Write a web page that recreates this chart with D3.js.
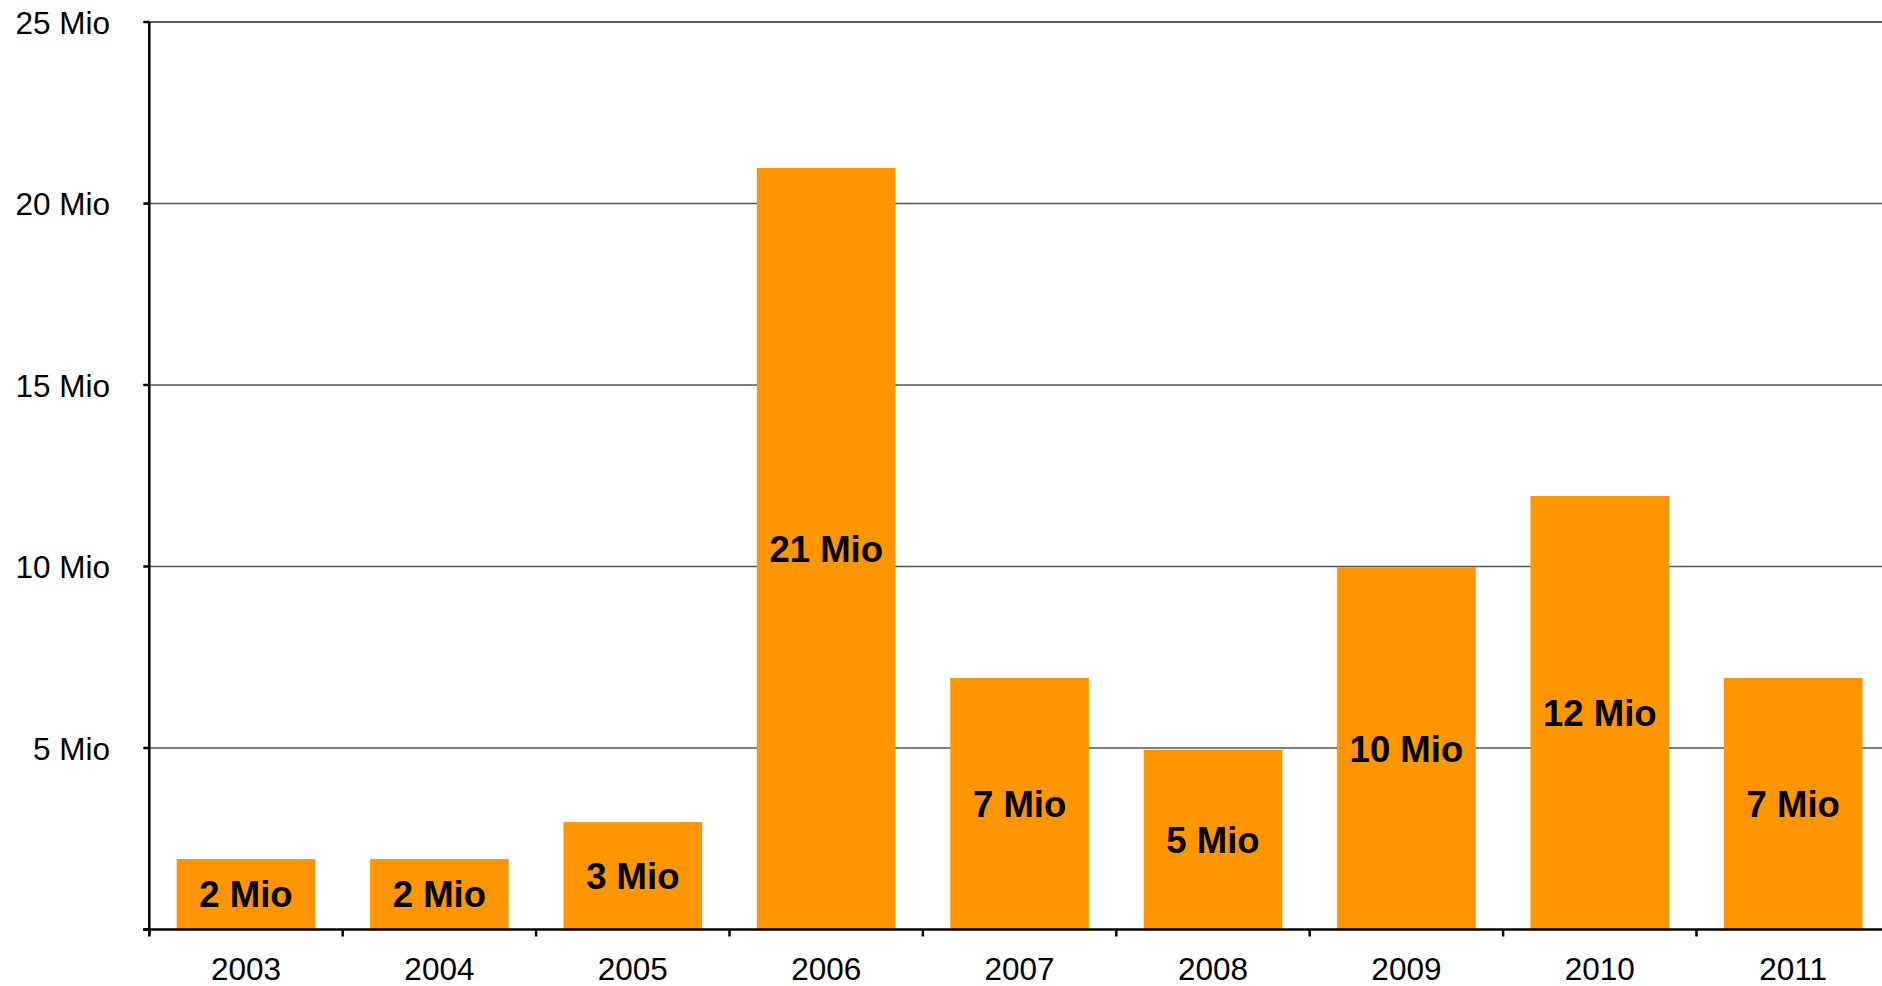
<!DOCTYPE html>
<html>
<head>
<meta charset="utf-8">
<script src="https://cdn.jsdelivr.net/npm/d3@7/dist/d3.min.js"></script>
<style>
  html, body { margin: 0; padding: 0; background: #fff; }
  svg { display: block; font-family: "Liberation Sans", Arial, sans-serif; }
</style>
</head>
<body>
<svg id="chart" width="1882" height="986"></svg>
<script>
const years = ["2003", "2004", "2005", "2006", "2007", "2008", "2009", "2010", "2011"];
const values = [1.94, 1.94, 2.96, 20.98, 6.93, 4.95, 9.98, 11.94, 6.93];
const valueLabels = ["2 Mio", "2 Mio", "3 Mio", "21 Mio", "7 Mio", "5 Mio", "10 Mio", "12 Mio", "7 Mio"];
const yTicks = [0, 5, 10, 15, 20, 25];
const yTickLabels = ["", "5 Mio", "10 Mio", "15 Mio", "20 Mio", "25 Mio"];

const svg = d3.select("#chart");
const plotLeft = 149.3, plotTop = 22, plotBottom = 929.5, bandStep = 193.4;
const plotRight = plotLeft + bandStep * years.length;

const x = d3.scaleBand().domain(years).range([plotLeft, plotRight])
  .paddingInner(0.283).paddingOuter(0.1415);
const y = d3.scaleLinear().domain([0, 25]).range([plotBottom, plotTop]);

// gridlines
svg.append("g").selectAll("line").data(yTicks.filter(t => t > 0)).join("line")
  .attr("x1", plotLeft).attr("x2", 1882)
  .attr("y1", d => y(d)).attr("y2", d => y(d))
  .attr("stroke", d => d === 25 ? "#222" : "#555")
  .attr("stroke-width", 1.3);

// bars
svg.append("g").selectAll("rect").data(years).join("rect")
  .attr("x", d => x(d))
  .attr("width", x.bandwidth())
  .attr("y", (d, i) => y(values[i]))
  .attr("height", (d, i) => y(0) - y(values[i]))
  .attr("fill", "#ff9500");

// value labels
svg.append("g").selectAll("text").data(years).join("text")
  .attr("x", d => x(d) + x.bandwidth() / 2)
  .attr("y", (d, i) => (y(values[i]) + y(0)) / 2)
  .attr("dy", "0.36em")
  .attr("text-anchor", "middle")
  .attr("font-size", 36.5)
  .attr("font-weight", "bold")
  .attr("fill", "#000")
  .text((d, i) => valueLabels[i]);

// y axis
const yAxis = svg.append("g");
yAxis.append("line").attr("x1", plotLeft).attr("x2", plotLeft).attr("y1", plotTop).attr("y2", plotBottom + 6)
  .attr("stroke", "#000").attr("stroke-width", 2.5);
yAxis.selectAll("line.t").data(yTicks).join("line").attr("class", "t")
  .attr("x1", plotLeft - 6).attr("x2", plotLeft)
  .attr("y1", d => y(d)).attr("y2", d => y(d))
  .attr("stroke", "#000").attr("stroke-width", 2.5);
yAxis.selectAll("text").data(yTicks).join("text")
  .attr("x", 110).attr("y", d => y(d)).attr("dy", "0.37em")
  .attr("text-anchor", "end").attr("font-size", 31.5).attr("fill", "#000")
  .text((d, i) => yTickLabels[i]);

// x axis
const xAxis = svg.append("g");
xAxis.append("line").attr("x1", plotLeft - 6).attr("x2", 1882).attr("y1", plotBottom).attr("y2", plotBottom)
  .attr("stroke", "#000").attr("stroke-width", 2.5);
const boundaries = years.map((d, i) => plotLeft + i * x.step());
boundaries.push(plotRight);
xAxis.selectAll("line.t").data(boundaries).join("line").attr("class", "t")
  .attr("x1", d => d).attr("x2", d => d)
  .attr("y1", plotBottom).attr("y2", plotBottom + 7)
  .attr("stroke", "#000").attr("stroke-width", 2.5);
xAxis.selectAll("text").data(years).join("text")
  .attr("x", d => x(d) + x.bandwidth() / 2)
  .attr("y", 979.5)
  .attr("text-anchor", "middle").attr("font-size", 31.5).attr("fill", "#000")
  .text(d => d);
</script>
</body>
</html>
